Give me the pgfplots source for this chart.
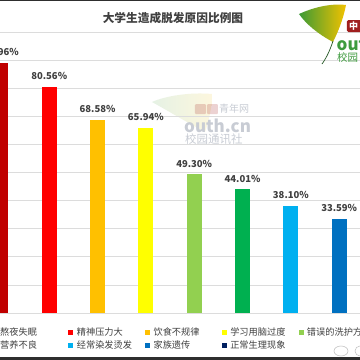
\documentclass[border=0pt]{standalone}
\usepackage{pgfplots}
\pgfplotsset{compat=1.18}
\usepackage{fontspec}
\setmainfont{Noto Sans CJK SC}
\definecolor{c1}{HTML}{C00000}
\definecolor{c2}{HTML}{FF0000}
\definecolor{c3}{HTML}{FFC000}
\definecolor{c4}{HTML}{FFFF00}
\definecolor{c5}{HTML}{92D050}
\definecolor{c6}{HTML}{00B050}
\definecolor{c7}{HTML}{00B0F0}
\definecolor{c8}{HTML}{0070C0}
\definecolor{c9}{HTML}{002060}
\definecolor{txt}{HTML}{404040}
\definecolor{gridc}{HTML}{DCDCDC}
\definecolor{leafg}{HTML}{3C9A35}
\definecolor{leafy}{HTML}{F2C200}
\definecolor{logog}{HTML}{3E9B3E}
\definecolor{logor}{HTML}{A01E1E}
\definecolor{edge}{HTML}{2E2E2E}
\definecolor{wm}{HTML}{C8CCD4}
\pgfplotsset{
  sqleg/.style={legend image code/.code={\fill[##1] (0pt,-2.5pt) rectangle (5pt,2.5pt); \path (8.4pt,0pt);}},
  mybar/.style={ybar, bar width=15pt, bar shift=0pt, draw=none, fill=#1, sqleg},
}
\newcommand{\legtxt}[1]{\makebox[68.3pt][l]{#1}}
\begin{document}
\begin{tikzpicture}[x=1pt,y=1pt]
\useasboundingbox (0,0) rectangle (360,360);
\clip (0,0) rectangle (360,360);
\fill[white] (0,0) rectangle (360,360);
% faint watermark
\begin{scope}[opacity=0.13]
\shade[left color=leafg, right color=leafy] (205,228) .. controls (190,236) and (170,248) .. (152,258) .. controls (165,264) and (190,268) .. (212,266) .. controls (212,252) and (209,240) .. (205,228) -- cycle;
\end{scope}
\begin{scope}[opacity=0.2]
\fill[logor, rounded corners=1pt] (195,246) rectangle (206,256);
\fill[logor, rounded corners=1pt] (207,246) rectangle (218,256);
\end{scope}
\node[text=wm, font=\fontsize{10}{10}\selectfont, anchor=west, inner sep=0pt] at (219,251) {青年网};
\node[text=wm, font=\bfseries\fontsize{17}{17}\selectfont, anchor=base west, inner sep=0pt] at (184,228) {outh.cn};
\node[text=wm, font=\fontsize{11.5}{11.5}\selectfont, anchor=west, inner sep=0pt] at (185,221) {校园通讯社};
\begin{axis}[
  at={(-23.3pt,47pt)}, anchor=south west,
  scale only axis, width=435pt, height=281pt,
  xmin=0.5, xmax=9.5, ymin=0, ymax=100,
  axis line style={draw=none}, tick style={draw=none},
  xtick=\empty, ytick={0,10,...,100}, yticklabels={},
  ymajorgrids, grid style={draw=gridc, line width=0.75pt},
  clip=false,
  sqleg,
  /pgf/number format/assume math mode=true,
  nodes near coords={\pgfmathprintnumber[fixed,fixed zerofill,precision=2]{\pgfplotspointmeta}\%},
  every node near coord/.append style={anchor=base, yshift=7.3pt, inner sep=0pt,
    font=\bfseries\fontsize{9.5}{9.5}\selectfont, text=txt},
  legend columns=5,
  legend style={draw=none, fill=none, inner sep=0pt, column sep=0pt, row sep=4.4pt,
    nodes={inner sep=0pt, text height=7pt, text depth=2pt, font=\fontsize{9.2}{9.2}\selectfont, text=txt},
    at={(axis description cs:0,0)}, anchor=north west, xshift=14.9pt, yshift=-14.8pt},
]
\addplot[mybar=c1] coordinates {(1,88.96)}; \addlegendentry{\legtxt{熬夜失眠}}
\addplot[mybar=c2] coordinates {(2,80.56)}; \addlegendentry{\legtxt{精神压力大}}
\addplot[mybar=c3] coordinates {(3,68.58)}; \addlegendentry{\legtxt{饮食不规律}}
\addplot[mybar=c4] coordinates {(4,65.94)}; \addlegendentry{\legtxt{学习用脑过度}}
\addplot[mybar=c5] coordinates {(5,49.30)}; \addlegendentry{\legtxt{错误的洗护方法}}
\addplot[mybar=c6] coordinates {(6,44.01)}; \addlegendentry{\legtxt{营养不良}}
\addplot[mybar=c7] coordinates {(7,38.10)}; \addlegendentry{\legtxt{经常染发烫发}}
\addplot[mybar=c8] coordinates {(8,33.59)}; \addlegendentry{\legtxt{家族遗传}}
\addlegendimage{fill=c9, draw=none} \addlegendentry{\legtxt{正常生理现象}}
\end{axis}
% title
\node[font=\bfseries\fontsize{11.7}{11.7}\selectfont, text=txt, inner sep=0pt] at (173,342) {大学生造成脱发原因比例图};
% logo
\shade[left color=leafg, right color=leafy] (333,318) .. controls (318,326) and (306,336) .. (299,346) .. controls (312,352) and (330,357) .. (346,355) .. controls (343,340) and (338,328) .. (333,318) -- cycle;
\draw[edge!80!green, line width=0.7pt] (333,319) .. controls (330,310) and (327,303) .. (322,296);
\fill[logor, rounded corners=1.5pt] (347,328) rectangle (364,340);
\node[text=white, font=\bfseries\fontsize{9}{9}\selectfont, inner sep=0pt] at (353.5,334) {中};
\node[text=logog, font=\bfseries\fontsize{17}{17}\selectfont, anchor=base west, inner sep=0pt] at (336.5,310) {outh};
\node[text=logog, font=\fontsize{10.5}{10.5}\selectfont, anchor=west, inner sep=0pt] at (337,302.5) {校园};
% weibo mark
\draw[gray!50, line width=0.5pt] (341,9) ellipse (7pt and 5pt);
\draw[gray!50, line width=0.5pt] (360,9) circle (5pt);
% edges
\fill[edge] (0,358.8) rectangle (360,360);
\fill[edge] (0,0) rectangle (360,3);
\end{tikzpicture}
\end{document}
